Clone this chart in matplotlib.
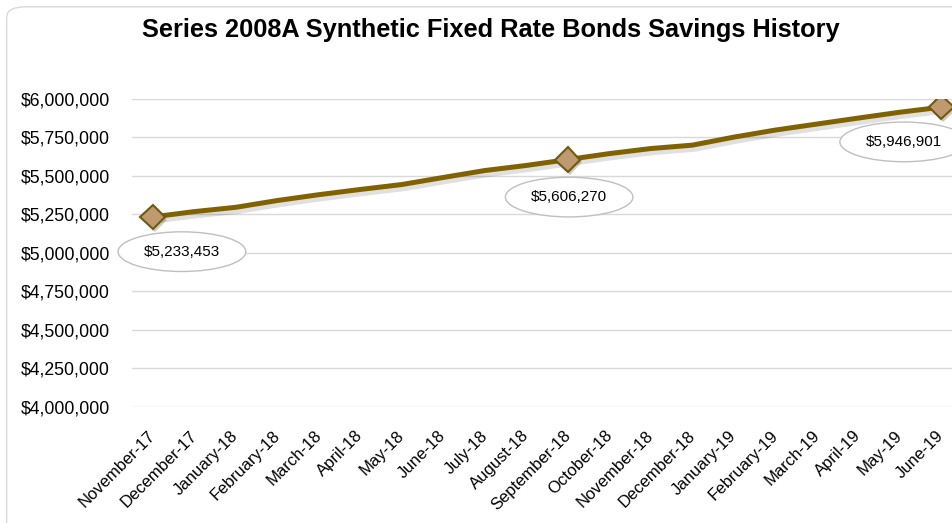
import matplotlib.pyplot as plt
import matplotlib.patheffects as pe
import matplotlib.transforms as mtransforms
from matplotlib.patches import FancyBboxPatch
from matplotlib.ticker import FuncFormatter, MultipleLocator

months = ["November-17", "December-17", "January-18", "February-18", "March-18",
          "April-18", "May-18", "June-18", "July-18", "August-18", "September-18",
          "October-18", "November-18", "December-18", "January-19", "February-19",
          "March-19", "April-19", "May-19", "June-19"]
savings = [5233453, 5268000, 5296000, 5340000, 5378000, 5412000, 5444000,
           5490000, 5535000, 5568000, 5606270, 5645000, 5678000, 5700000,
           5752000, 5798000, 5837000, 5876000, 5914000, 5946901]
# points that get a data label
labelled = [0, 10, 19]
label_offsets = [(21, -25), (1, -27), (-27, -25)]

plt.rcParams['font.family'] = ['Liberation Sans', 'DejaVu Sans']

fig = plt.figure(figsize=(9.52, 5.23), dpi=100)
fig.patches.append(FancyBboxPatch((0.007, -0.05), 1.05, 1.037,
                                  boxstyle="round,pad=0,rounding_size=0.02",
                                  transform=fig.transFigure, facecolor="white",
                                  edgecolor="#d9d9d9", linewidth=1, zorder=-10))
# categories sit between tick marks, so the plot area runs a bit past the right edge
ax = fig.add_axes([132 / 952, 1 - 406.7 / 523, 830 / 952, (406.7 - 99) / 523])

x = list(range(len(months)))
line_col = "#806300"
ax.plot(x, savings, color=line_col, linewidth=3.6, solid_capstyle="round", zorder=3,
        path_effects=[pe.SimpleLineShadow(offset=(1.5, -3), shadow_color="black", alpha=0.12),
                      pe.Normal()])
mx = [x[i] for i in labelled]
my = [savings[i] for i in labelled]
ax.plot(mx, my, linestyle="none", marker="D", markersize=12.5, markerfacecolor="#bf9a6e",
        markeredgecolor="#6e5a10", markeredgewidth=1.5, zorder=4,
        path_effects=[pe.SimplePatchShadow(offset=(1.5, -2), alpha=0.25), pe.Normal()])

for i, (dx, dy) in zip(labelled, label_offsets):
    ax.annotate("${:,.0f}".format(savings[i]), (x[i], savings[i]), xytext=(dx, dy),
                textcoords="offset points", ha="center", va="center", fontsize=11,
                zorder=5, annotation_clip=False,
                bbox=dict(boxstyle="ellipse,pad=0.46", facecolor="white",
                          edgecolor="#bfbfbf", linewidth=1))

ax.set_ylim(4000000, 6000000)
ax.set_xlim(-0.5, 19.5)
ax.yaxis.set_major_locator(MultipleLocator(250000))
ax.yaxis.set_major_formatter(FuncFormatter(lambda v, p: "${:,.0f}".format(v)))
ax.grid(axis="y", color="#d9d9d9", linewidth=1)
ax.set_axisbelow(True)
for s in ax.spines.values():
    s.set_visible(False)
ax.tick_params(axis="both", length=0, colors="black")
ax.tick_params(axis="x", pad=6, labelsize=12)
ax.tick_params(axis="y", pad=16, labelsize=12.7)

ax.set_xticks(x)
ax.set_xticklabels(months, rotation=45, ha="right", rotation_mode="anchor")
# nudge rotated labels so they hang like the original
shift = mtransforms.ScaledTranslation(-5 / 100, -13 / 100, fig.dpi_scale_trans)
for lab in ax.get_xticklabels():
    lab.set_transform(lab.get_transform() + shift)

fig.text(0.516, 0.942, "Series 2008A Synthetic Fixed Rate Bonds Savings History",
         ha="center", va="center", fontsize=18.3, fontweight="bold")

fig.savefig("out.png", dpi=100)
